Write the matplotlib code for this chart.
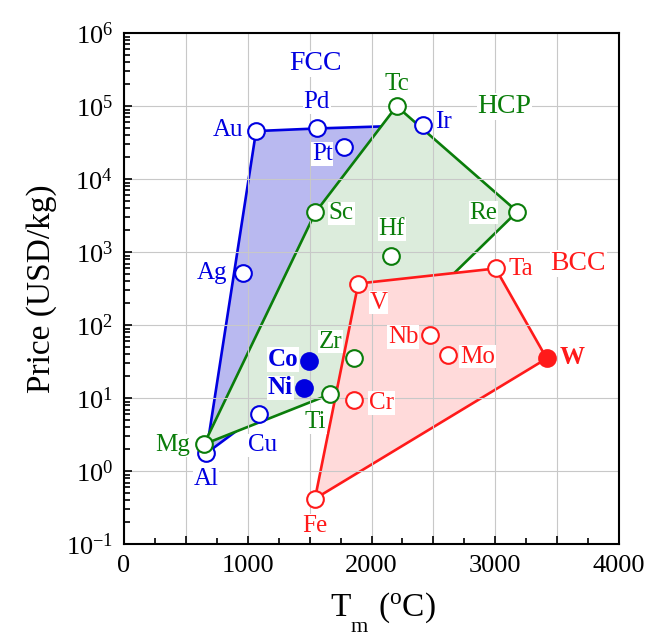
import matplotlib.pyplot as plt
from matplotlib.ticker import MultipleLocator, FuncFormatter, LogLocator, NullFormatter

plt.rcParams['font.family'] = ['Liberation Serif', 'DejaVu Serif']
plt.rcParams['mathtext.fontset'] = 'custom'
plt.rcParams['mathtext.rm'] = 'Liberation Serif'
plt.rcParams['mathtext.it'] = 'Liberation Serif:italic'
plt.rcParams['mathtext.bf'] = 'Liberation Serif:bold'

# melting point (C) and price (USD/kg) per element
fcc_names = ['Al', 'Cu', 'Ag', 'Au', 'Pd', 'Pt', 'Ir']
fcc_tm = [663, 1088, 964, 1067, 1557, 1780, 2414]
fcc_price = [1.75, 6.0, 520, 45600, 49500, 27700, 55000]

hcp_names = ['Mg', 'Ti', 'Zr', 'Sc', 'Hf', 'Tc', 'Re']
hcp_tm = [646, 1665, 1856, 1546, 2155, 2203, 3178]
hcp_price = [2.34, 11.3, 36, 3500, 890, 100000, 3600]

bcc_names = ['Fe', 'Cr', 'V', 'Nb', 'Mo', 'Ta', 'W']
bcc_tm = [1543, 1861, 1893, 2473, 2621, 3003, 3416]
bcc_price = [0.42, 9.4, 372, 73, 39.6, 598, 35]

# filled markers (highlighted elements)
hi_names = ['Co', 'Ni']
hi_tm = [1492, 1457]
hi_price = [32, 13.8]

# hull outlines
fcc_hull = ['Al', 'Au', 'Pd', 'Ir', 'Cu']
hcp_hull = ['Mg', 'Sc', 'Tc', 'Re', 'Ti']
bcc_hull = ['Fe', 'V', 'Ta', 'W']

# label offsets in pixels
offs = {'Al': (0, -26), 'Cu': (4, -31), 'Ag': (-31, 0), 'Au': (-28, 1),
        'Pd': (0, 26), 'Pt': (-22, -7), 'Ir': (21, 3), 'Mg': (-31, -1),
        'Ti': (-15, -28), 'Zr': (-23, 16), 'Sc': (26, -1), 'Hf': (1, 27),
        'Tc': (0, 22), 'Re': (-34, -1), 'Fe': (0, -27), 'Cr': (27, -3),
        'V': (20, -19), 'Nb': (-27, -2), 'Mo': (29, -2), 'Ta': (25, -1),
        'W': (25, 1), 'Co': (-26, 2), 'Ni': (-24, 0)}

blue = '#0000e0'
green = '#0a7d0a'
red = '#ff1a1a'

fig = plt.figure(figsize=(6.67, 6.38), dpi=100)
ax = fig.add_axes([0.186, 0.147, 0.742, 0.801])
ax.set_yscale('log')


def hull(names, tms, prices, hull_names, fc, ec, z):
    lut = dict(zip(names, zip(tms, prices)))
    xs = [lut[n][0] for n in hull_names]
    ys = [lut[n][1] for n in hull_names]
    ax.fill(xs, ys, facecolor=fc, edgecolor='none', zorder=z)
    ax.plot(xs + xs[:1], ys + ys[:1], color=ec, lw=1.9, zorder=z + 0.05)


hull(fcc_names, fcc_tm, fcc_price, fcc_hull, '#b9b9f0', blue, 1.0)
hull(hcp_names, hcp_tm, hcp_price, hcp_hull, '#dcecdc', green, 1.2)
hull(bcc_names, bcc_tm, bcc_price, bcc_hull, '#ffdada', red, 1.4)

box = dict(facecolor='white', edgecolor='none', pad=0.5)


def points(names, tms, prices, color, filled=()):
    for n, x, y in zip(names, tms, prices):
        f = n in filled
        ax.plot(x, y, 'o', ms=12, mew=1.5, mec=color,
                mfc=color if f else 'white', zorder=3)
        ax.annotate(n, (x, y), xytext=offs[n], textcoords='offset pixels',
                    ha='center', va='center', fontsize=18, color=color,
                    fontweight='bold' if f else 'normal', bbox=box, zorder=4)


points(fcc_names, fcc_tm, fcc_price, blue)
points(hcp_names, hcp_tm, hcp_price, green)
points(bcc_names, bcc_tm, bcc_price, red, filled=('W',))
points(hi_names, hi_tm, hi_price, blue, filled=('Co', 'Ni'))

ax.text(1549, 3.8e5, 'FCC', color=blue, fontsize=20, ha='center', va='center', bbox=box, zorder=4)
ax.text(3074, 9.8e4, 'HCP', color=green, fontsize=20, ha='center', va='center', bbox=box, zorder=4)
ax.text(3671, 705, 'BCC', color=red, fontsize=20, ha='center', va='center', bbox=box, zorder=4)

ax.set_xlim(0, 4000)
ax.set_ylim(0.1, 1e6)
ax.xaxis.set_major_locator(MultipleLocator(500))
ax.xaxis.set_minor_locator(MultipleLocator(250))
ax.xaxis.set_major_formatter(FuncFormatter(lambda v, p: '%d' % v if v % 1000 == 0 else ''))
ax.yaxis.set_major_locator(LogLocator(base=10, numticks=20))
ax.yaxis.set_minor_locator(LogLocator(base=10, subs=range(2, 10), numticks=20))
ax.yaxis.set_minor_formatter(NullFormatter())
ax.tick_params(which='both', direction='in', top=False, right=False, labelsize=19, width=1.2)
ax.tick_params(which='major', length=6)
ax.tick_params(which='minor', length=4)
ax.tick_params(axis='y', pad=8)
ax.tick_params(axis='x', pad=8)

ax.set_axisbelow(False)
ax.grid(True, which='major', color='#c8c8c8', lw=0.8)
for s in ax.spines.values():
    s.set_linewidth(1.5)
    s.set_zorder(5)

# x label built from pieces: subscript sits well below the T
W, H = 667.0, 638.0
fig.text(341 / W, 1 - 616 / H, 'T', fontsize=24, ha='center', va='baseline')
fig.text(359 / W, 1 - 632 / H, 'm', fontsize=16, ha='center', va='baseline')
fig.text(378 / W, 1 - 616 / H, r'($^{\mathregular{o}}$C)', fontsize=24, ha='left', va='baseline')
ax.set_ylabel('Price (USD/kg)', fontsize=24, labelpad=6)

fig.savefig('out.png', dpi=100)
